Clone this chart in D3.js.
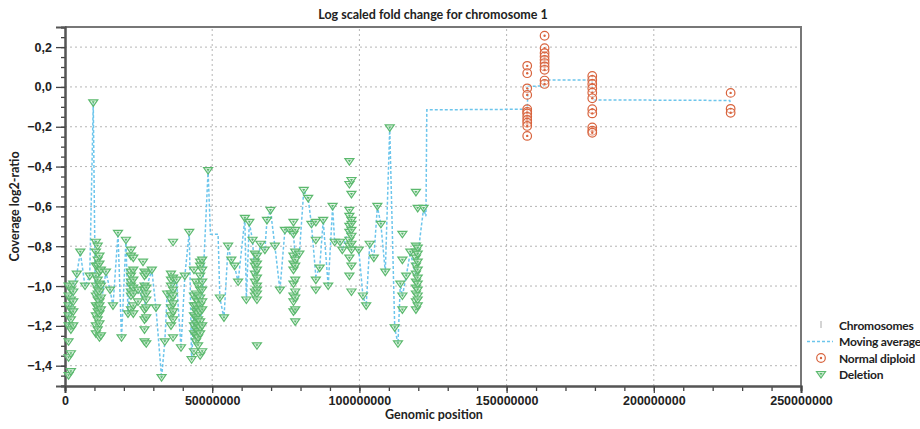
<!DOCTYPE html>
<html>
<head>
<meta charset="utf-8">
<script src="https://cdn.jsdelivr.net/npm/d3@7"></script>
<style>
  body { margin: 0; background: #fff; }
  svg { font-family: Lato, "DejaVu Sans", sans-serif; }
  .tick text { font-size: 12.5px; font-weight: 700; fill: #222; }
</style>
</head>
<body>
<div id="chart"></div>
<script>

// positions in Mb, then the log2-ratio values seen at that position
var deletion = [
  [1.2, -1.0, -1.05, -1.1, -1.15, -1.2, -1.28, -1.36, -1.45],
  [2.0, -1.02, -1.07, -1.12, -1.17, -1.22, -1.34, -1.43],
  [2.8, -0.99, -1.03, -1.08, -1.13, -1.2],
  [4.0, -0.94], [5.2, -0.83], [6.8, -1.0], [8.4, -0.95], [9.6, -0.08],
  [10.5, -0.78, -0.83, -0.9, -0.95, -1.0, -1.05, -1.1, -1.15, -1.2, -1.24],
  [11.1, -0.8, -0.87, -0.9, -0.97, -1.02, -1.04, -1.07, -1.11, -1.13, -1.17, -1.22],
  [11.7, -0.85, -0.89, -0.93, -0.99, -1.03, -1.08, -1.1, -1.14, -1.19, -1.26],
  [12.2, -0.92, -1.0, -1.06, -1.12, -1.25],
  [13.9, -0.93], [15.3, -1.02], [16.3, -1.1], [18.0, -0.735], [19.2, -1.26],
  [20.7, -0.77], [21.4, -1.14],
  [22.4, -0.82, -0.85, -0.93, -0.95, -0.98, -1.0, -1.03, -1.05, -1.12],
  [23.2, -0.86, -0.92, -0.97, -1.01, -1.04, -1.1, -1.14],
  [24.8, -1.02, -1.08], [26.5, -0.88],
  [27.0, -0.93, -0.95, -1.0, -1.02, -1.05, -1.12, -1.17, -1.22, -1.28],
  [27.6, -0.94, -1.01, -1.04, -1.07, -1.11, -1.16, -1.29],
  [29.5, -0.92], [30.9, -1.11], [32.8, -1.46], [33.9, -1.28], [34.7, -1.04],
  [36.0, -0.94, -0.97, -1.0, -1.04, -1.07, -1.11, -1.15, -1.2],
  [36.7, -0.78, -0.96, -1.02, -1.05, -1.09, -1.13, -1.17, -1.26],
  [37.9, -0.97], [39.4, -1.31], [40.7, -0.95], [42.2, -0.73], [43.0, -1.37],
  [43.8, -0.92, -1.05, -1.1, -1.15, -1.2, -1.24, -1.33],
  [44.5, -0.98, -1.04, -1.07, -1.1, -1.13, -1.16, -1.19, -1.22, -1.25, -1.28],
  [45.2, -1.0, -1.05, -1.08, -1.12, -1.14, -1.17, -1.2, -1.23, -1.26, -1.3],
  [45.9, -0.88, -0.9, -0.95, -1.02, -1.06, -1.1, -1.13, -1.18, -1.21, -1.24, -1.35],
  [46.6, -0.87, -0.92, -0.98, -1.02, -1.08, -1.12, -1.2, -1.33],
  [48.6, -0.42], [52.6, -1.06], [54.0, -1.16], [55.4, -0.8], [56.5, -0.87],
  [57.6, -0.9], [58.8, -0.98], [61.1, -0.66], [61.6, -1.07], [62.6, -0.68], [63.7, -0.77],
  [64.5, -0.84, -0.88, -0.9, -0.94, -0.98, -1.03, -1.05],
  [65.2, -0.85, -0.89, -0.92, -0.96, -1.0, -1.02, -1.04, -1.07, -1.3],
  [66.4, -0.79], [67.9, -0.82], [68.6, -0.67], [69.8, -0.62], [71.3, -0.8],
  [73.0, -1.02], [74.7, -0.72], [76.4, -0.72],
  [77.6, -0.68, -0.74, -0.85, -0.89, -0.92, -0.99, -1.05, -1.08, -1.13],
  [78.2, -0.72, -0.83, -0.87, -0.9, -0.97, -1.03, -1.06, -1.12, -1.18],
  [79.6, -0.84], [81.1, -0.52], [82.6, -0.56], [83.7, -0.69],
  [85.2, -0.68, -0.77, -0.97, -1.02],
  [86.5, -0.91], [87.7, -0.67], [89.4, -1.0], [90.9, -0.6], [91.6, -0.78],
  [93.4, -0.78], [94.2, -0.82],
  [96.6, -0.375, -0.49, -0.62, -0.65, -0.7, -0.73, -0.77, -0.8, -0.86, -0.95],
  [97.3, -0.47, -0.54, -0.67, -0.69, -0.72, -0.75, -0.79, -0.82, -0.9, -1.03],
  [99.8, -0.82], [101.2, -1.05], [102.3, -1.1], [103.5, -0.79], [104.9, -0.86],
  [106.1, -0.6], [107.3, -0.69], [108.8, -0.93], [110.3, -0.206], [112.0, -1.21],
  [113.1, -1.29], [113.9, -0.99], [114.6, -0.74, -0.87, -1.05, -1.12],
  [115.9, -0.95], [117.3, -0.83],
  [119.2, -0.53, -0.8, -0.83, -0.86, -0.9, -0.94, -0.98, -1.01, -1.04, -1.08, -1.12],
  [119.8, -0.61, -0.81, -0.84, -0.88, -0.92, -0.96, -0.99, -1.02, -1.05, -1.07, -1.1],
  [121.8, -0.61]
];

var normalDiploid = [
  [157.0, 0.106, 0.069, -0.007, -0.04, -0.112, -0.125, -0.133, -0.15, -0.166, -0.18, -0.196, -0.246],
  [162.9, 0.257, 0.195, 0.17, 0.153, 0.136, 0.12, 0.103, 0.086, 0.032, 0.015],
  [179.1, 0.055, 0.035, 0.015, -0.007, -0.029, -0.057, -0.112, -0.133, -0.203, -0.22, -0.23],
  [226.1, -0.03, -0.11, -0.13]
];

var movingAverage = [
  [1.2,-1.2],[1.6,-1.05],[2.2,-1.15],[2.8,-1.02],[4.0,-0.94],[5.2,-0.83],[6.8,-1.0],
  [8.4,-0.95],[9.6,-0.08],[10.3,-1.05],[10.8,-0.95],[11.3,-1.15],[11.8,-1.0],[12.3,-1.08],
  [13.9,-0.93],[15.3,-1.02],[16.3,-1.1],[18.0,-0.735],[19.2,-1.26],[20.7,-0.77],[21.4,-1.14],
  [22.4,-0.95],[23.2,-1.04],[24.8,-1.03],[26.0,-1.05],[26.5,-0.98],[27.3,-1.1],[27.8,-1.0],
  [29.5,-0.92],[30.9,-1.11],[32.8,-1.46],[33.9,-1.28],[34.7,-1.04],[36.0,-1.1],[36.7,-0.98],
  [37.9,-0.98],[39.4,-1.31],[40.7,-0.95],[42.2,-0.73],[43.0,-1.37],[44.0,-1.1],[44.8,-1.2],
  [45.5,-1.05],[46.2,-1.15],[46.8,-1.0],[48.6,-0.42],[49.4,-0.74],[52.0,-0.74],[52.6,-1.06],
  [54.0,-1.16],[55.4,-0.8],[56.5,-0.87],[57.6,-0.9],[58.8,-0.98],[61.1,-0.66],[61.6,-1.07],
  [62.6,-0.68],[63.7,-0.77],[64.5,-0.95],[65.2,-0.9],[66.4,-0.79],[67.9,-0.82],[68.6,-0.67],
  [69.8,-0.62],[71.3,-0.8],[73.0,-1.02],[74.7,-0.72],[76.4,-0.73],[77.6,-0.74],[78.2,-0.85],
  [79.6,-0.84],[81.1,-0.52],[82.6,-0.56],[83.7,-0.69],[85.2,-0.95],[86.5,-0.91],[87.7,-0.67],
  [89.4,-1.0],[90.9,-0.6],[91.6,-0.78],[93.4,-0.78],[94.2,-0.82],[96.6,-0.7],[97.3,-0.8],
  [99.8,-0.82],[101.2,-1.05],[102.3,-1.1],[103.5,-0.79],[104.9,-0.86],[106.1,-0.6],
  [107.3,-0.69],[108.8,-0.93],[110.3,-0.206],[112.0,-1.21],[113.1,-1.29],[113.9,-0.99],
  [114.6,-1.05],[115.9,-0.95],[117.3,-0.83],[119.2,-0.95],[119.8,-0.85],[121.8,-0.61],
  [122.6,-0.65],[122.9,-0.115],[157.0,-0.112],[157.3,0.003],[162.6,0.005],[162.9,0.035],
  [179.0,0.035],[179.3,-0.065],[225.8,-0.068],[226.1,-0.09]
];

var legendItems = ["Chromosomes", "Moving average", "Normal diploid", "Deletion"];

var title = "Log scaled fold change for chromosome 1";
var xTitle = "Genomic position";
var yTitle = "Coverage log2-ratio";

var green = "#5cb96e", orange = "#d8643e", blue = "#6cc5ec";

////// setup

var W = 920, H = 429;
var margin = {left: 65, right: 119, top: 27, bottom: 43};

var svg = d3.select("#chart").append("svg")
    .attr("width", W)
    .attr("height", H);

var x = d3.scaleLinear().domain([0, 250e6]).range([margin.left, W - margin.right]);
var y = d3.scaleLinear().domain([-1.502, 0.301]).range([H - margin.bottom, margin.top]);

function flat(rows) {
  return rows.flatMap(function(r) {
    return r.slice(1).map(function(v) { return {x: r[0] * 1e6, y: v}; });
  });
}

////// grid

var grid = svg.append("g");
grid.selectAll("line.gy").data(d3.range(-1.4, 0.21, 0.2))
  .enter().append("line")
    .attr("x1", x(0)).attr("x2", x(250e6))
    .attr("y1", function(d) { return y(d); }).attr("y2", function(d) { return y(d); })
    .style("stroke", "#b5b5b5").style("stroke-dasharray", "2,3");
grid.selectAll("line.gx").data([50e6, 100e6, 150e6, 200e6])
  .enter().append("line")
    .attr("y1", y.range()[0]).attr("y2", y.range()[1])
    .attr("x1", function(d) { return x(d); }).attr("x2", function(d) { return x(d); })
    .style("stroke", "#b5b5b5").style("stroke-dasharray", "2,3");

// frame top/right
svg.append("path")
  .attr("d", "M" + x(0) + "," + y.range()[1] + "H" + x(250e6) + "V" + y.range()[0])
  .style("fill", "none").style("stroke", "#777").style("stroke-width", 2);

////// axes

var yMinor = svg.append("g").attr("transform", "translate(" + x(0) + ",0)")
  .call(d3.axisLeft(y).tickValues(d3.range(-1.5, 0.31, 0.05)).tickSize(4).tickFormat(""));
var yAxis = svg.append("g").attr("transform", "translate(" + x(0) + ",0)")
  .call(d3.axisLeft(y).tickValues(d3.range(-1.4, 0.21, 0.2)).tickSize(9).tickPadding(4)
    .tickFormat(function(d) { return d3.format(".1f")(d).replace(".", ","); }));

var xMinor = svg.append("g").attr("transform", "translate(0," + y(-1.502) + ")")
  .call(d3.axisBottom(x).tickValues(d3.range(0, 250e6 + 1, 10e6)).tickSize(5).tickFormat(""));
var xAxis = svg.append("g").attr("transform", "translate(0," + y(-1.502) + ")")
  .call(d3.axisBottom(x).tickValues(d3.range(0, 250e6 + 1, 50e6)).tickSize(7).tickPadding(3)
    .tickFormat(d3.format("d")));

[yMinor, yAxis, xMinor, xAxis].forEach(function(g) {
  g.select(".domain").style("stroke", "#555").style("stroke-width", 2);
  g.selectAll(".tick line").style("stroke", "#444").style("stroke-width", 1.3);
});

////// moving average

svg.append("path")
  .datum(movingAverage)
  .attr("d", d3.line().x(function(d) { return x(d[0] * 1e6); }).y(function(d) { return y(d[1]); }))
  .style("fill", "none").style("stroke", blue).style("stroke-width", 1.5)
  .style("stroke-dasharray", "3,2");

////// markers

var tri = "M-4.5,-3L4.5,-3L0,3.5Z";
var triDot = "M-1.5,-1.5L1.5,-1.5L0,1Z";

var del = svg.append("g").selectAll("g").data(flat(deletion))
  .enter().append("g")
    .attr("transform", function(d) { return "translate(" + x(d.x) + "," + y(d.y) + ")"; });
del.append("path").attr("d", tri)
  .style("fill", "#cdebd3").style("fill-opacity", 0.6)
  .style("stroke", green).style("stroke-width", 1.2);
del.append("path").attr("d", triDot).style("fill", green);

var nd = svg.append("g").selectAll("g").data(flat(normalDiploid))
  .enter().append("g")
    .attr("transform", function(d) { return "translate(" + x(d.x) + "," + y(d.y) + ")"; });
nd.append("circle").attr("r", 4.3)
  .style("fill", "#fff").style("fill-opacity", 0.4)
  .style("stroke", orange).style("stroke-width", 1.2);
nd.append("circle").attr("r", 1.2).style("fill", orange);

////// texts

svg.append("text")
  .attr("x", 433).attr("y", 19)
  .attr("text-anchor", "middle")
  .style("font-size", "12.5px").style("font-weight", 700).style("fill", "#222")
  .text(title);

svg.append("text")
  .attr("x", 434).attr("y", 419)
  .attr("text-anchor", "middle")
  .style("font-size", "12.5px").style("font-weight", 700).style("fill", "#222")
  .text(xTitle);

svg.append("text")
  .attr("transform", "translate(19," + ((y.range()[0] + y.range()[1]) / 2) + ") rotate(-90)")
  .attr("text-anchor", "middle")
  .style("font-size", "12.5px").style("font-weight", 700).style("fill", "#222")
  .text(yTitle);

////// legend

var leg = svg.append("g").attr("transform", "translate(807,325)");
var items = leg.selectAll("g").data(legendItems)
  .enter().append("g")
    .attr("transform", function(d, i) { return "translate(0," + i * 16.5 + ")"; });

items.append("text")
  .attr("x", 32).attr("y", 4.5)
  .style("font-size", "12px").style("font-weight", 700).style("fill", "#222")
  .style("letter-spacing", "-0.2px")
  .text(function(d) { return d; });

items.each(function(d, i) {
  var g = d3.select(this);
  if (i == 0) {
    g.append("line").attr("x1", 14).attr("x2", 14).attr("y1", -4).attr("y2", 3)
      .style("stroke", "#aaa");
  } else if (i == 1) {
    g.append("line").attr("x1", 0).attr("x2", 26).attr("y1", 0).attr("y2", 0)
      .style("stroke", blue).style("stroke-width", 1.5).style("stroke-dasharray", "3,2");
  } else if (i == 2) {
    g.append("circle").attr("cx", 14).attr("r", 4.3).style("fill", "none")
      .style("stroke", orange).style("stroke-width", 1.2);
    g.append("circle").attr("cx", 14).attr("r", 1.2).style("fill", orange);
  } else {
    g.append("path").attr("d", tri).attr("transform", "translate(14,0)")
      .style("fill", "#cdebd3").style("stroke", green).style("stroke-width", 1.2);
    g.append("path").attr("d", triDot).attr("transform", "translate(14,0)").style("fill", green);
  }
});

</script>
</body>
</html>
